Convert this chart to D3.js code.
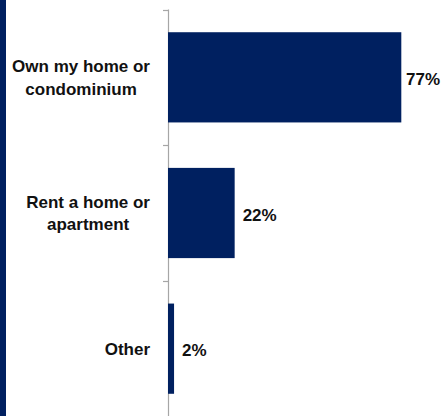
<!DOCTYPE html>
<html>
<head>
<meta charset="utf-8">
<script src="https://cdn.jsdelivr.net/npm/d3@7"></script>
<style>
  html, body { margin: 0; padding: 0; background: #ffffff; }
  svg { display: block; }
</style>
</head>
<body>
<script>
const categories = ["Own my home or condominium", "Rent a home or apartment", "Other"];
const categoryLines = [["Own my home or", "condominium"], ["Rent a home or", "apartment"], ["Other"]];
const values = [77, 22, 2];
const valueLabels = ["77%", "22%", "2%"];

const W = 444, H = 416;
const navy = "#002060";
const textColor = "#111111";
const font = "'Liberation Sans', Arial, sans-serif";

const svg = d3.select("body").append("svg").attr("width", W).attr("height", H);

// left accent stripe
svg.append("rect").attr("x", 0).attr("y", 0).attr("width", 6).attr("height", H).attr("fill", navy);

const axisX = 168.5;
const y = d3.scaleBand().domain(categories).range([9.5, 416.5]).padding(0);
const x = d3.scaleLinear().domain([0, 100]).range([168, 168 + 303]);
const barFrac = 0.665;

// axis line and boundary ticks
const g = svg.append("g");
g.append("line")
  .attr("x1", axisX).attr("x2", axisX)
  .attr("y1", y.range()[0]).attr("y2", y.range()[1])
  .attr("stroke", "#a6a6a6").attr("stroke-width", 1.2);
const bounds = categories.map(c => y(c)).concat([y.range()[1]]);
g.selectAll("line.tick").data(bounds).enter().append("line")
  .attr("class", "tick")
  .attr("x1", axisX - 5.5).attr("x2", axisX)
  .attr("y1", d => Math.round(d) + 0.5).attr("y2", d => Math.round(d) + 0.5)
  .attr("stroke", "#a6a6a6").attr("stroke-width", 1.2);

// bars
const bw = y.bandwidth();
svg.selectAll("rect.bar").data(values).enter().append("rect")
  .attr("class", "bar")
  .attr("x", x(0))
  .attr("y", (d, i) => y(categories[i]) + bw * (1 - barFrac) / 2)
  .attr("width", d => x(d) - x(0))
  .attr("height", bw * barFrac)
  .attr("fill", navy);

// category labels
const fs = 17, lh = 22.5;
categoryLines.forEach((lines, i) => {
  const cy = y(categories[i]) + bw / 2;
  const t = svg.append("text")
    .attr("font-family", font).attr("font-weight", "bold").attr("font-size", fs)
    .attr("fill", textColor).attr("text-anchor", "middle");
  const spans = lines.map((ln, j) => t.append("tspan")
    .attr("y", cy + (j - (lines.length - 1) / 2) * lh + 0.36 * fs)
    .text(ln));
  const maxW = d3.max(spans, s => s.node().getComputedTextLength());
  spans.forEach(s => s.attr("x", 150 - maxW / 2));
});

// value labels
values.forEach((v, i) => {
  const cy = y(categories[i]) + bw / 2;
  const t = svg.append("text")
    .attr("font-family", font).attr("font-weight", "bold").attr("font-size", fs)
    .attr("fill", textColor)
    .attr("y", cy + 0.45 * fs)
    .text(valueLabels[i]);
  const tw = t.node().getComputedTextLength();
  t.attr("x", Math.min(x(v) + 8, W - 4 - tw));
});
</script>
</body>
</html>
